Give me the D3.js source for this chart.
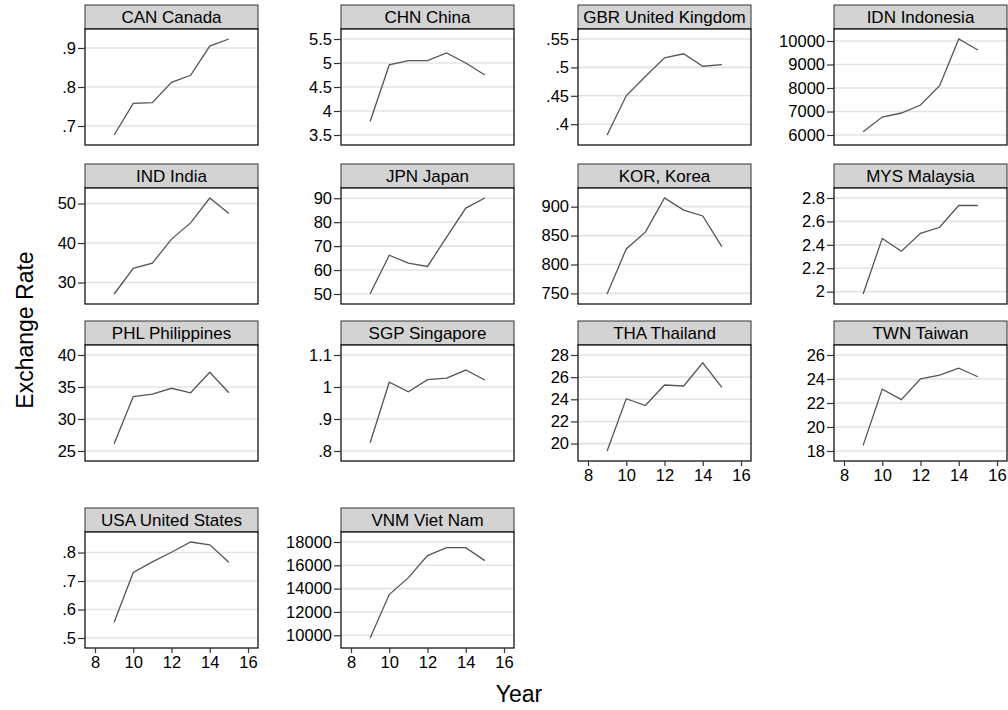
<!DOCTYPE html>
<html>
<head>
<meta charset="utf-8">
<script src="https://cdn.jsdelivr.net/npm/d3@7"></script>
<style>
  body { margin: 0; background: #fff; }
  svg { display: block; font-family: "Liberation Sans", Arial, sans-serif; }
</style>
</head>
<body>
<svg id="vis" width="1008" height="710"></svg>
<script>
// data (years are 2-digit, 9 = 2009 ... 15 = 2015)
const YEARS = [9, 10, 11, 12, 13, 14, 15];
const XTICKS = [8, 10, 12, 14, 16];

const CAN = [0.677, 0.758, 0.760, 0.812, 0.830, 0.905, 0.923];
const CHN = [3.78, 4.96, 5.05, 5.05, 5.21, 5.00, 4.75];
const GBR = [0.381, 0.450, 0.484, 0.517, 0.524, 0.502, 0.505];
const IDN = [6140, 6766, 6936, 7277, 8098, 10085, 9617];
const IND = [27.1, 33.6, 34.9, 41.0, 45.1, 51.4, 47.5];
const JPN = [50.1, 66.2, 62.9, 61.5, 73.8, 85.9, 90.1];
const KOR = [749, 827, 856, 915, 894, 884, 831];
const MYS = [1.98, 2.455, 2.345, 2.498, 2.55, 2.736, 2.736];
const PHL = [26.15, 33.5, 33.9, 34.8, 34.1, 37.3, 34.1];
const SGP = [0.826, 1.015, 0.985, 1.023, 1.028, 1.053, 1.022];
const THA = [19.33, 24.05, 23.44, 25.29, 25.2, 27.3, 25.08];
const TWN = [18.47, 23.16, 22.28, 24.02, 24.32, 24.9, 24.19];
const USA = [0.555, 0.730, 0.767, 0.801, 0.837, 0.827, 0.766];
const VNM = [9766, 13490, 14945, 16838, 17510, 17510, 16400];

const TICKS_CAN = [0.7, 0.8, 0.9];
const TICKS_CHN = [3.5, 4, 4.5, 5, 5.5];
const TICKS_GBR = [0.4, 0.45, 0.5, 0.55];
const TICKS_IDN = [6000, 7000, 8000, 9000, 10000];
const TICKS_IND = [30, 40, 50];
const TICKS_JPN = [50, 60, 70, 80, 90];
const TICKS_KOR = [750, 800, 850, 900];
const TICKS_MYS = [2, 2.2, 2.4, 2.6, 2.8];
const TICKS_PHL = [25, 30, 35, 40];
const TICKS_SGP = [0.8, 0.9, 1, 1.1];
const TICKS_THA = [20, 22, 24, 26, 28];
const TICKS_TWN = [18, 20, 22, 24, 26];
const TICKS_USA = [0.5, 0.6, 0.7, 0.8];
const TICKS_VNM = [10000, 12000, 14000, 16000, 18000];

const TITLES = ["CAN Canada", "CHN China", "GBR United Kingdom", "IDN Indonesia",
    "IND India", "JPN Japan", "KOR, Korea", "MYS Malaysia",
    "PHL Philippines", "SGP Singapore", "THA Thailand", "TWN Taiwan",
    "USA United States", "VNM Viet Nam"];
const SERIES = [CAN, CHN, GBR, IDN, IND, JPN, KOR, MYS, PHL, SGP, THA, TWN, USA, VNM];
const YTICKS = [TICKS_CAN, TICKS_CHN, TICKS_GBR, TICKS_IDN, TICKS_IND, TICKS_JPN, TICKS_KOR,
    TICKS_MYS, TICKS_PHL, TICKS_SGP, TICKS_THA, TICKS_TWN, TICKS_USA, TICKS_VNM];

// layout
const COL_X = [85, 341, 578, 834];
const ROW_Y = [5, 164, 321, 508];
const PLOT_W = 173;
const HEAD_H = 24;
const PLOT_H = 116;
const PAD = 10;
const FONT = "Liberation Sans, Arial, sans-serif";

const svg = d3.select("#vis");

// stata style labels: .7 instead of 0.7
function fmt(d) {
    return String(+d.toFixed(4)).replace(/^0\./, ".");
}

SERIES.forEach(function(vals, i) {
    var col = i % 4, row = Math.floor(i / 4);
    var left = COL_X[col], top = ROW_Y[row];
    var pTop = top + HEAD_H, pBottom = pTop + PLOT_H;
    var ticks = YTICKS[i];
    var showX = i >= 10;

    var x = d3.scaleLinear()
        .domain(d3.extent(XTICKS.concat(YEARS)))
        .range([left + PAD, left + PLOT_W - PAD]);
    var y = d3.scaleLinear()
        .domain(d3.extent(ticks.concat(vals)))
        .range([pBottom - PAD, pTop + PAD]);

    var g = svg.append("g").attr("class", "panel");

    // header strip
    g.append("rect")
        .attr("x", left).attr("y", top)
        .attr("width", PLOT_W).attr("height", HEAD_H)
        .attr("fill", "#d3d3d3").attr("stroke", "#333").attr("stroke-width", 1);
    g.append("text")
        .attr("x", left + PLOT_W / 2).attr("y", top + 18)
        .attr("text-anchor", "middle")
        .style("font-size", "17px")
        .text(TITLES[i]);

    // plot area + grid
    g.append("rect")
        .attr("x", left).attr("y", pTop)
        .attr("width", PLOT_W).attr("height", PLOT_H)
        .attr("fill", "#fff");
    g.selectAll("line.grid").data(ticks).enter().append("line")
        .attr("class", "grid")
        .attr("x1", left).attr("x2", left + PLOT_W)
        .attr("y1", d => y(d)).attr("y2", d => y(d))
        .attr("stroke", "#e3e3e3").attr("stroke-width", 1.6);

    var line = d3.line()
        .x((d, k) => x(YEARS[k]))
        .y(d => y(d));
    g.append("path")
        .datum(vals)
        .attr("d", line)
        .attr("fill", "none")
        .attr("stroke", "#555")
        .attr("stroke-width", 1.3);

    g.append("rect")
        .attr("x", left).attr("y", pTop)
        .attr("width", PLOT_W).attr("height", PLOT_H)
        .attr("fill", "none").attr("stroke", "#000").attr("stroke-width", 1.2);

    // y axis
    var ya = g.append("g")
        .attr("transform", `translate(${left},0)`)
        .call(d3.axisLeft(y).tickValues(ticks).tickSize(7).tickPadding(2).tickFormat(fmt));
    ya.select(".domain").remove();
    ya.selectAll(".tick line").attr("stroke", "#333").attr("stroke-width", 1.2);
    ya.selectAll(".tick text").style("font-size", "16.5px").attr("fill", "#000")
        .style("font-family", FONT);

    if (showX) {
        var xa = g.append("g")
            .attr("transform", `translate(0,${pBottom})`)
            .call(d3.axisBottom(x).tickValues(XTICKS).tickSize(5).tickPadding(3).tickFormat(d3.format("d")));
        xa.select(".domain").remove();
        xa.selectAll(".tick line").attr("stroke", "#333").attr("stroke-width", 1.2);
        xa.selectAll(".tick text").style("font-size", "16.5px").attr("fill", "#000")
            .style("font-family", FONT);
    }
});

// axis titles
svg.append("text")
    .attr("transform", "translate(33,330) rotate(-90)")
    .attr("text-anchor", "middle")
    .style("font-size", "23px")
    .text("Exchange Rate");

svg.append("text")
    .attr("x", 519).attr("y", 702)
    .attr("text-anchor", "middle")
    .style("font-size", "23px")
    .text("Year");
</script>
</body>
</html>
